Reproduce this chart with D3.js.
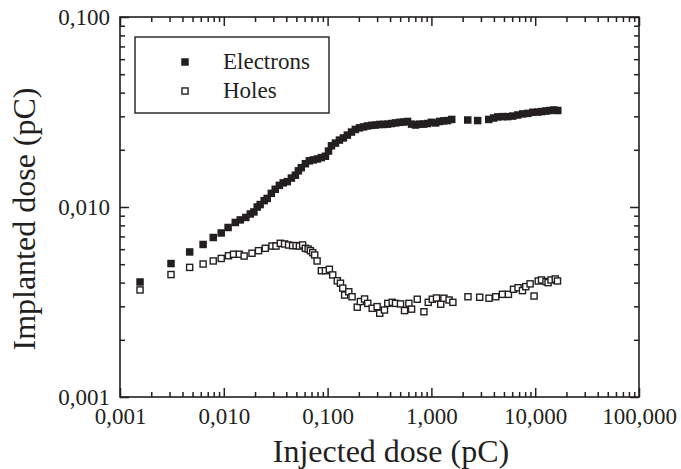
<!DOCTYPE html>
<html>
<head>
<meta charset="utf-8">
<script src="https://cdn.jsdelivr.net/npm/d3@7"></script>
<style>
  html, body { margin: 0; padding: 0; background: #fff; }
  svg { display: block; }
  text { font-family: "Liberation Serif", "Times New Roman", serif; fill: #231f20; }
</style>
</head>
<body>
<svg id="chart" width="681" height="469"></svg>
<script>
// ---- data ----
const electronsX = [0.00156,0.00310,0.00469,0.00632,0.00791,0.00944,0.0110,0.0129,0.0144,0.0163,
  0.0180,0.0195,0.0210,0.0224,0.0245,0.0262,0.0287,0.0313,0.0343,0.0374,
  0.0409,0.0448,0.0489,0.0523,0.0558,0.0611,0.0667,0.0729,0.0798,0.0871,
  0.0953,0.102,0.109,0.119,0.130,0.142,0.155,0.170,0.185,0.203,
  0.222,0.242,0.265,0.289,0.316,0.346,0.378,0.413,0.451,0.493,
  0.540,0.589,0.644,0.704,0.769,0.841,0.918,1.00,1.10,1.20,
  1.31,1.43,1.57,2.24,2.79,3.57,3.98,4.35,4.87,5.44,
  6.08,6.79,7.59,8.49,9.48,10.6,11.6,12.7,13.8,15.1,16.5];
const electronsY = [0.00403,0.00504,0.00580,0.00635,0.00691,0.00730,0.00780,0.00829,0.00855,0.00881,
  0.00919,0.00942,0.0100,0.0103,0.0108,0.0111,0.0118,0.0124,0.0130,0.0134,
  0.0136,0.0142,0.0147,0.0155,0.0161,0.0169,0.0175,0.0177,0.0179,0.0182,
  0.0185,0.0197,0.0210,0.0217,0.0225,0.0231,0.0239,0.0248,0.0256,0.0261,
  0.0264,0.0267,0.0269,0.0270,0.0272,0.0272,0.0273,0.0275,0.0277,0.0279,
  0.0280,0.0282,0.0273,0.0270,0.0273,0.0273,0.0275,0.0279,0.0277,0.0282,
  0.0284,0.0285,0.0289,0.0287,0.0285,0.0289,0.0294,0.0298,0.0299,0.0299,
  0.0301,0.0305,0.0309,0.0311,0.0315,0.0316,0.0318,0.0320,0.0322,0.0324,0.0322];
const holesX = [0.00156,0.00310,0.00469,0.00632,0.00791,0.00944,0.0111,0.0124,0.0141,0.0157,
  0.0187,0.0216,0.0251,0.0291,0.0318,0.0350,0.0385,0.0421,0.0460,0.0497,
  0.0535,0.0575,0.0611,0.0649,0.0682,0.0718,0.0751,0.0792,0.0871,0.0953,
  0.104,0.112,0.124,0.133,0.140,0.146,0.160,0.172,0.193,0.207,
  0.227,0.244,0.269,0.300,0.318,0.353,0.380,0.419,0.451,0.504,
  0.551,0.607,0.644,0.731,0.847,0.933,1.02,1.12,1.23,1.32,
  1.48,1.61,2.25,2.92,3.59,4.17,4.83,5.52,6.18,6.84,
  7.54,8.11,8.93,9.75,10.7,11.5,12.7,13.3,14.2,15.6,16.4];
const holesY = [0.00366,0.00441,0.00481,0.00501,0.00520,0.00536,0.00554,0.00564,0.00564,0.00552,
  0.00571,0.00589,0.00606,0.00623,0.00623,0.00644,0.00639,0.00631,0.00626,0.00626,
  0.00623,0.00631,0.00606,0.00601,0.00589,0.00575,0.00559,0.00520,0.00462,0.00462,
  0.00470,0.00439,0.00409,0.00397,0.00374,0.00344,0.00358,0.00337,0.00297,0.00318,
  0.00328,0.00311,0.00293,0.00299,0.00276,0.00287,0.00311,0.00315,0.00311,0.00309,
  0.00285,0.00311,0.00290,0.00327,0.00281,0.00315,0.00327,0.00332,0.00308,0.00331,
  0.00324,0.00315,0.00337,0.00335,0.00331,0.00337,0.00347,0.00347,0.00369,0.00376,
  0.00363,0.00381,0.00394,0.00340,0.00408,0.00413,0.00405,0.00400,0.00413,0.00418,0.00408];
const xMajorTicks = [0.001, 0.01, 0.1, 1, 10, 100];
const yMajorTicks = [0.001, 0.01, 0.1];
const seriesNames = ["Electrons", "Holes"];
const xTitle = "Injected dose (pC)";
const yTitle = "Implanted dose (pC)";

// ---- layout ----
const W = 681, H = 469;
const L = 120, R = 639, T = 17, B = 397;
const ink = "#231f20";
const svg = d3.select("#chart");

const x = d3.scaleLog().domain([0.001, 100]).range([L, R]);
const y = d3.scaleLog().domain([0.001, 0.1]).range([B, T]);

function minorTicks(majors) {
  const out = [];
  for (let i = 0; i < majors.length - 1; i++)
    for (let k = 2; k <= 9; k++) out.push(majors[i] * k);
  return out;
}
const xMinor = minorTicks(xMajorTicks);
const yMinor = minorTicks(yMajorTicks);
const fmt = v => d3.format(".3f")(v).replace(".", ",");

function styleAxis(g) {
  g.selectAll(".domain").remove();
  g.selectAll(".tick line").attr("stroke", ink).attr("stroke-width", 1.5);
  g.selectAll(".tick text").attr("fill", ink).style("font-family", '"Liberation Serif", serif').style("font-size", "23px");
}

// bottom
svg.append("g").attr("transform", `translate(0,${B})`)
  .call(d3.axisBottom(x).tickValues(xMajorTicks).tickSize(-9).tickPadding(11).tickFormat(fmt)).call(styleAxis);
svg.append("g").attr("transform", `translate(0,${B})`)
  .call(d3.axisBottom(x).tickValues(xMinor).tickSize(-5).tickFormat("")).call(styleAxis);
// top
svg.append("g").attr("transform", `translate(0,${T})`)
  .call(d3.axisTop(x).tickValues(xMajorTicks).tickSize(-9).tickFormat("")).call(styleAxis);
svg.append("g").attr("transform", `translate(0,${T})`)
  .call(d3.axisTop(x).tickValues(xMinor).tickSize(-5).tickFormat("")).call(styleAxis);
// left
svg.append("g").attr("transform", `translate(${L},0)`)
  .call(d3.axisLeft(y).tickValues(yMajorTicks).tickSize(-9).tickPadding(10).tickFormat(fmt)).call(styleAxis);
svg.append("g").attr("transform", `translate(${L},0)`)
  .call(d3.axisLeft(y).tickValues(yMinor).tickSize(-5).tickFormat("")).call(styleAxis);
// right
svg.append("g").attr("transform", `translate(${R},0)`)
  .call(d3.axisRight(y).tickValues(yMajorTicks).tickSize(-9).tickFormat("")).call(styleAxis);
svg.append("g").attr("transform", `translate(${R},0)`)
  .call(d3.axisRight(y).tickValues(yMinor).tickSize(-5).tickFormat("")).call(styleAxis);

// frame
svg.append("rect").attr("x", L).attr("y", T).attr("width", R - L).attr("height", B - T)
  .attr("fill", "none").attr("stroke", ink).attr("stroke-width", 1.6);

// titles
svg.append("text").attr("x", 391).attr("y", 462).attr("text-anchor", "middle")
  .style("font-size", "32px").text(xTitle);
svg.append("text").attr("transform", `translate(35,${(T + B) / 2 + 12}) rotate(-90)`)
  .attr("text-anchor", "middle").style("font-size", "32px").text(yTitle);

// data
const S = 7.5;
const eData = electronsX.map((v, i) => [v, electronsY[i]]);
const hData = holesX.map((v, i) => [v, holesY[i]]);
svg.append("g").selectAll("rect").data(eData).join("rect")
  .attr("x", d => x(d[0]) - S / 2).attr("y", d => y(d[1]) - S / 2)
  .attr("width", S).attr("height", S).attr("fill", ink);
svg.append("g").selectAll("rect").data(hData).join("rect")
  .attr("x", d => x(d[0]) - (S - 1.4) / 2).attr("y", d => y(d[1]) - (S - 1.4) / 2)
  .attr("width", S - 1.4).attr("height", S - 1.4).attr("fill", "#fff")
  .attr("stroke", ink).attr("stroke-width", 1.4);

// legend
const lg = svg.append("g");
lg.append("rect").attr("x", 135).attr("y", 37).attr("width", 194).attr("height", 76)
  .attr("fill", "#fff").attr("stroke", ink).attr("stroke-width", 1.4);
lg.append("rect").attr("x", 185 - S / 2).attr("y", 62 - S / 2).attr("width", S).attr("height", S).attr("fill", ink);
lg.append("rect").attr("x", 185 - (S - 1.4) / 2).attr("y", 91 - (S - 1.4) / 2).attr("width", S - 1.4).attr("height", S - 1.4)
  .attr("fill", "#fff").attr("stroke", ink).attr("stroke-width", 1.4);
lg.append("text").attr("x", 223).attr("y", 69).style("font-size", "23px").text(seriesNames[0]);
lg.append("text").attr("x", 223).attr("y", 98).style("font-size", "23px").text(seriesNames[1]);
</script>
</body>
</html>
